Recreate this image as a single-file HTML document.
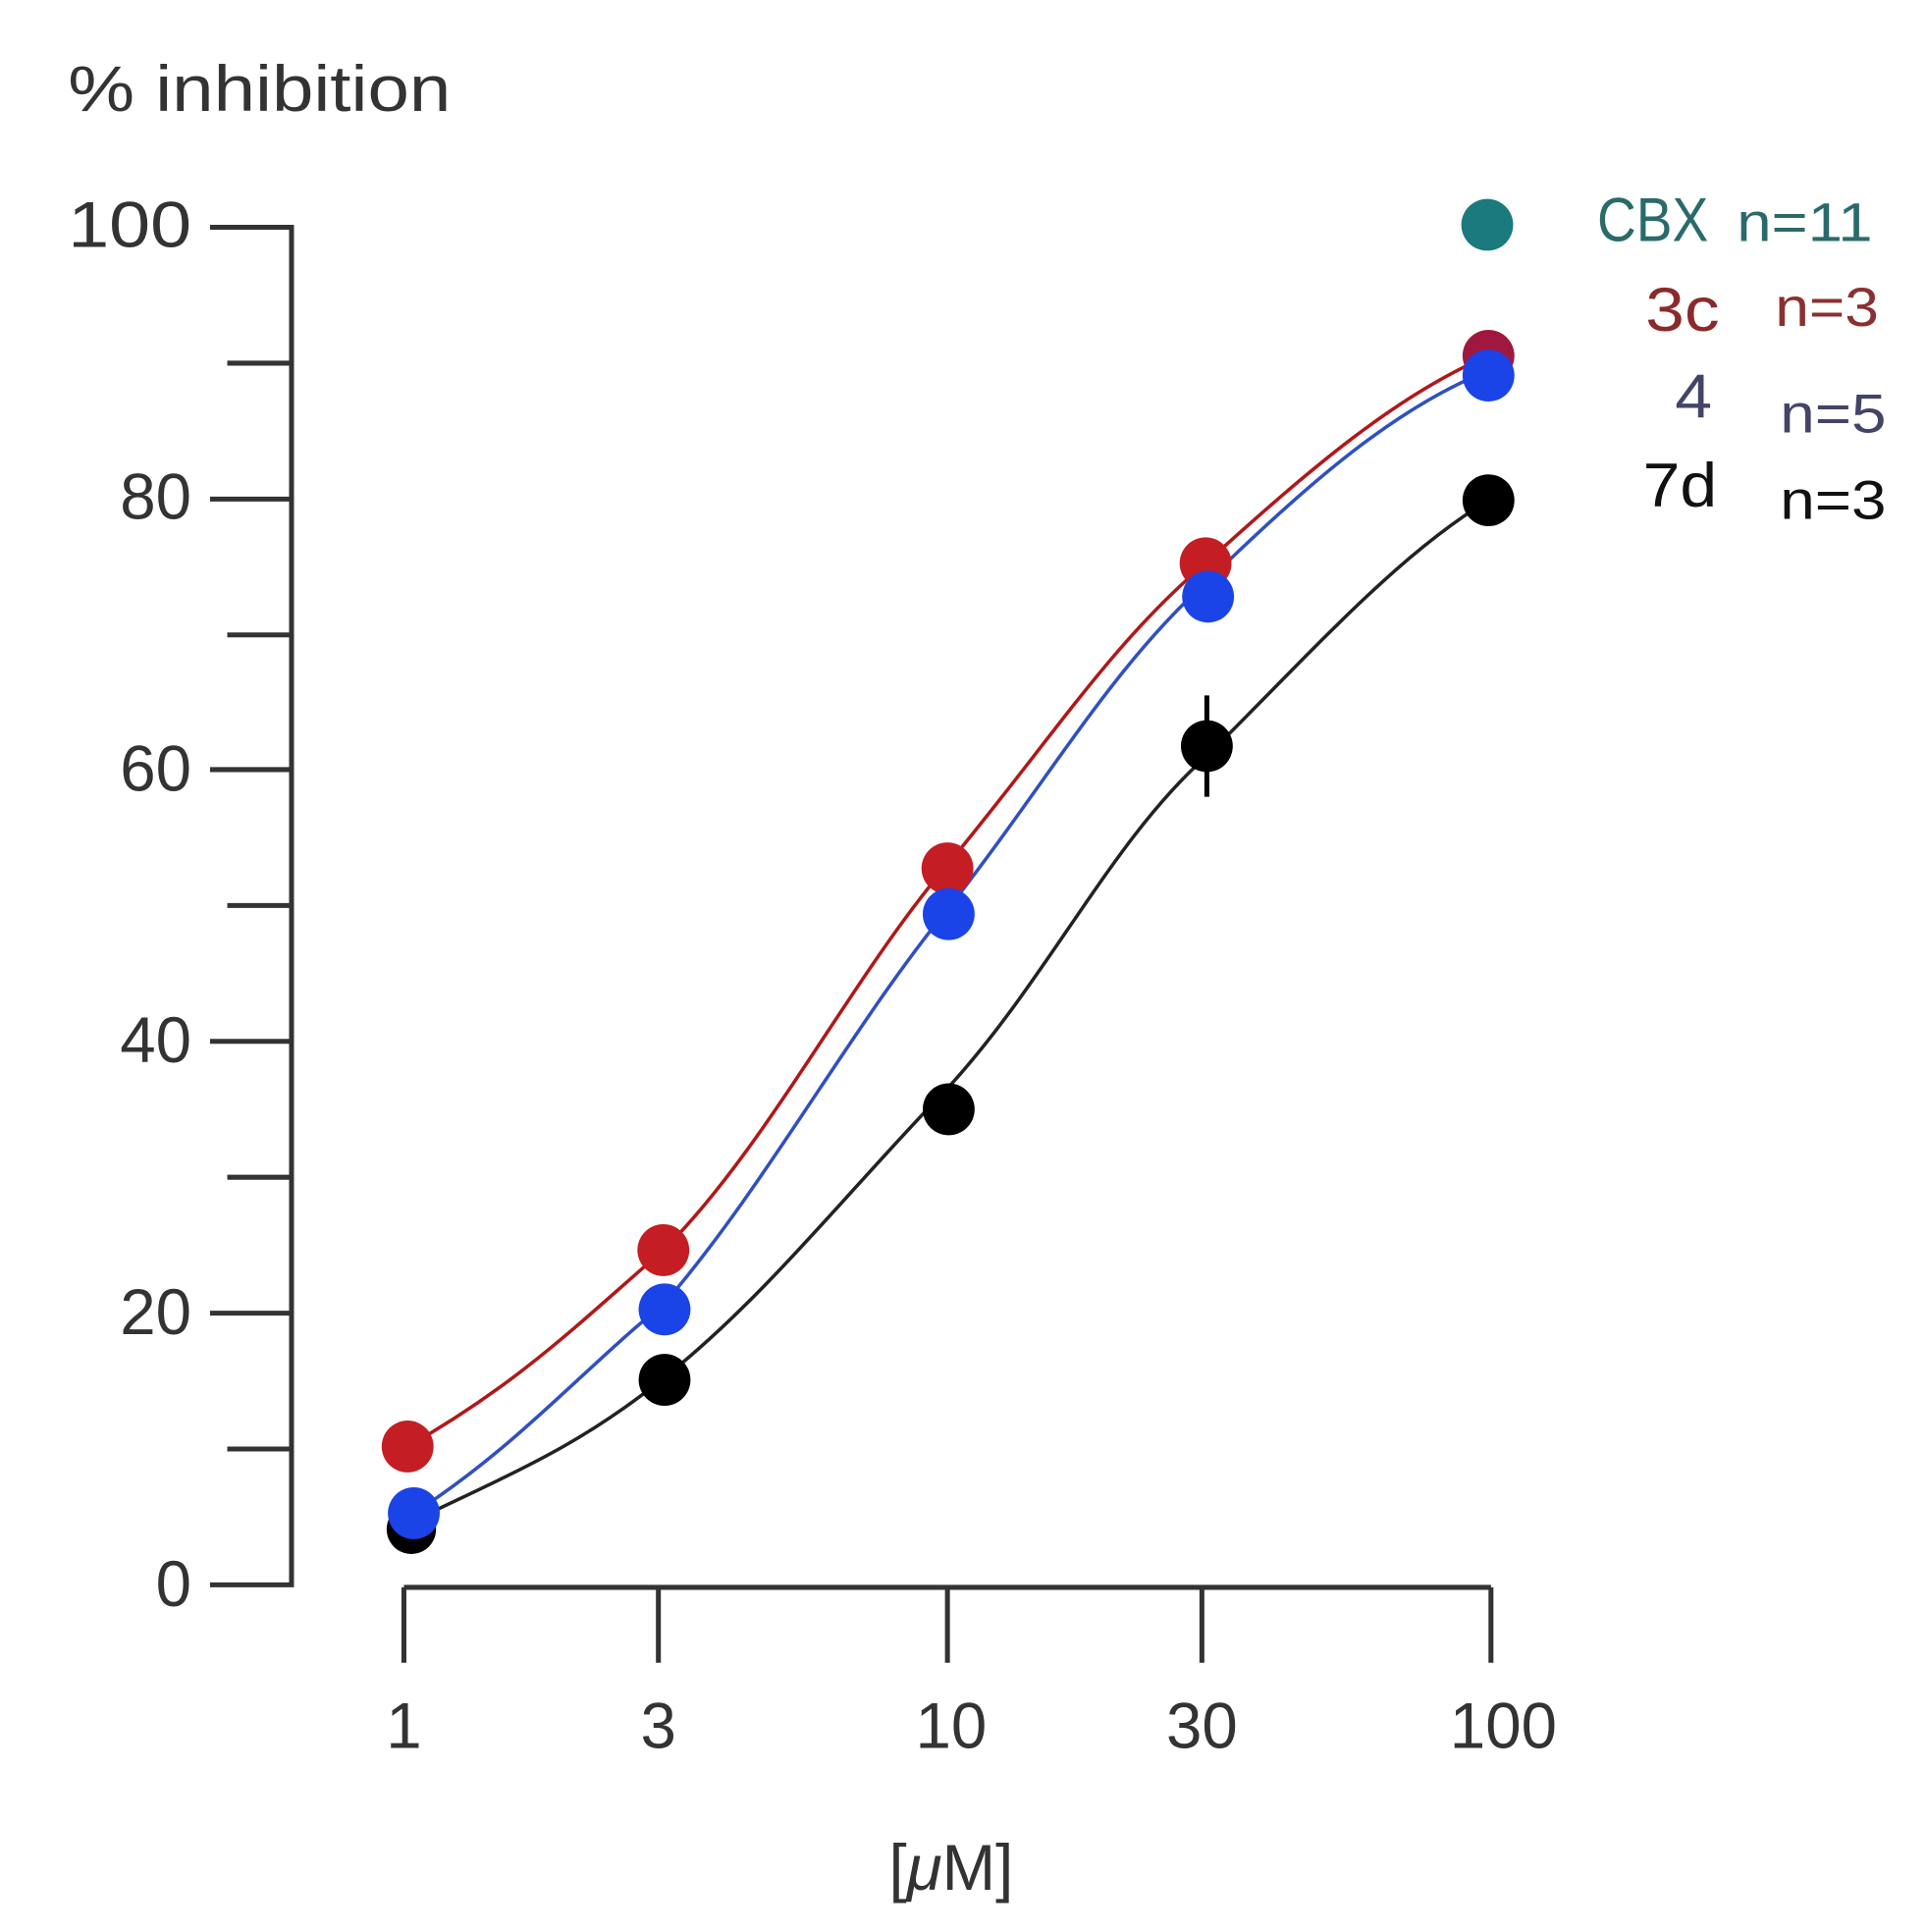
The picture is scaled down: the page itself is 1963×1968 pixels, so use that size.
<!DOCTYPE html>
<html><head><meta charset="utf-8"><style>
html,body{margin:0;padding:0;background:#fff;}
svg{display:block;}
text{font-family:"Liberation Sans",sans-serif;}
</style></head><body>
<svg width="1963" height="1968" viewBox="0 0 1560 1564" preserveAspectRatio="none" xmlns="http://www.w3.org/2000/svg">
<rect width="1560" height="1564" fill="#fff"/>
<text x="55" y="90" font-size="52" fill="#333" textLength="310" lengthAdjust="spacingAndGlyphs">% inhibition</text>
<g stroke="#333" stroke-width="4" fill="none">
<path d="M170 184 H236 V1283 H170"/>
<path d="M184 294 H236 M170 404 H236 M184 514 H236 M170 623 H236 M184 733 H236 M170 843 H236 M184 953 H236 M170 1063 H236 M184 1173 H236"/>
<path d="M327 1285 H1207"/>
<path d="M327 1285 V1346 M533 1285 V1346 M767 1285 V1346 M973 1285 V1346 M1207 1285 V1346"/>
</g>
<g font-size="52" fill="#333" text-anchor="end">
<text x="155" y="200" textLength="100" lengthAdjust="spacingAndGlyphs">100</text>
<text x="155" y="420">80</text>
<text x="155" y="640">60</text>
<text x="155" y="860">40</text>
<text x="155" y="1080">20</text>
<text x="155" y="1300">0</text>
</g>
<g font-size="52" fill="#333" text-anchor="middle">
<text x="327" y="1415">1</text>
<text x="533" y="1415">3</text>
<text x="770" y="1415">10</text>
<text x="973" y="1415">30</text>
<text x="1217" y="1415">100</text>
<text x="770" y="1530">[<tspan font-style="italic">μ</tspan>M]</text>
</g>
<g fill="none" stroke-width="2.8">
<path stroke="#222" d="M333 1232 C420 1190 470 1170 538 1115 C620 1050 690 960 768 880 C850 790 900 680 977 612 C1060 530 1130 450 1205 405"/>
<path stroke="#b01818" d="M330 1171 C420 1120 470 1070 537 1012 C620 930 690 790 767 700 C850 600 900 520 976 456 C1060 380 1130 320 1205 288"/>
<path stroke="#3050c0" d="M335 1225 C420 1170 470 1110 538 1055 C620 960 690 830 768 735 C850 630 900 540 978 470 C1060 390 1130 330 1205 300"/>
</g>
<path d="M977 563 V645" stroke="#000" stroke-width="4"/>
<g>
<circle cx="333" cy="1238" r="20" fill="#000"/>
<circle cx="538" cy="1117" r="21" fill="#000"/>
<circle cx="768" cy="898" r="21" fill="#000"/>
<circle cx="977" cy="604" r="21" fill="#000"/>
<circle cx="1205" cy="405" r="21" fill="#000"/>
<circle cx="330" cy="1171" r="21" fill="#c41e24"/>
<circle cx="537" cy="1012" r="21" fill="#c41e24"/>
<circle cx="767" cy="703" r="21" fill="#c41e24"/>
<circle cx="976" cy="456" r="21" fill="#c41e24"/>
<circle cx="1205" cy="288" r="21" fill="#a01840"/>
<circle cx="335" cy="1225" r="21" fill="#1a44e8"/>
<circle cx="538" cy="1060" r="21" fill="#1a44e8"/>
<circle cx="768" cy="740" r="21" fill="#1a44e8"/>
<circle cx="978" cy="483" r="21" fill="#1a44e8"/>
<circle cx="1205" cy="304" r="21" fill="#1a44e8"/>
<circle cx="1204" cy="182" r="21" fill="#1a7a7e"/>
</g>
<g font-size="50">
<text x="1293" y="195" fill="#2a6a6a" textLength="90" lengthAdjust="spacingAndGlyphs">CBX</text>
<text x="1406" y="195" fill="#2a6a6a" font-size="44" textLength="110" lengthAdjust="spacingAndGlyphs">n=11</text>
<text x="1332" y="268" fill="#8a2a2a" textLength="60" lengthAdjust="spacingAndGlyphs">3c</text>
<text x="1437" y="264" fill="#8a3030" font-size="44" textLength="84" lengthAdjust="spacingAndGlyphs">n=3</text>
<text x="1356" y="338" fill="#444466" textLength="30" lengthAdjust="spacingAndGlyphs">4</text>
<text x="1441" y="350" fill="#444466" font-size="44" textLength="86" lengthAdjust="spacingAndGlyphs">n=5</text>
<text x="1330" y="410" fill="#111" textLength="60" lengthAdjust="spacingAndGlyphs">7d</text>
<text x="1441" y="420" fill="#111" font-size="44" textLength="86" lengthAdjust="spacingAndGlyphs">n=3</text>
</g>
</svg>
</body></html>
